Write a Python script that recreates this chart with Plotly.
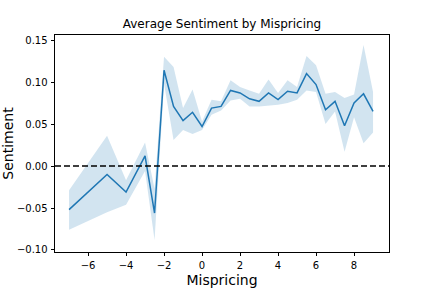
import plotly.graph_objects as go

mispricing = [-7, -5, -4, -3, -2.5, -2, -1.5, -1, -0.5, 0, 0.5, 1, 1.5, 2, 2.5, 3,
              3.5, 4, 4.5, 5, 5.5, 6, 6.5, 7, 7.5, 8, 8.5, 9]
sentiment_mean = [-0.052, -0.010, -0.031, 0.012, -0.056, 0.114, 0.071, 0.054, 0.064, 0.047,
                  0.069, 0.071, 0.090, 0.087, 0.080, 0.077, 0.087, 0.079, 0.089, 0.087,
                  0.110, 0.097, 0.067, 0.077, 0.048, 0.075, 0.086, 0.065]
sentiment_upper = [-0.029, 0.036, -0.017, 0.028, -0.027, 0.130, 0.118, 0.069, 0.091, 0.053,
                   0.079, 0.077, 0.102, 0.094, 0.090, 0.086, 0.103, 0.087, 0.102, 0.094,
                   0.131, 0.120, 0.086, 0.088, 0.081, 0.085, 0.144, 0.088]
sentiment_lower = [-0.076, -0.055, -0.046, -0.006, -0.088, 0.098, 0.031, 0.043, 0.038, 0.043,
                   0.061, 0.066, 0.078, 0.080, 0.071, 0.071, 0.072, 0.073, 0.075, 0.079,
                   0.090, 0.088, 0.050, 0.065, 0.017, 0.058, 0.027, 0.040]

x_ticks = [-6, -4, -2, 0, 2, 4, 6, 8]
y_ticks = [-0.10, -0.05, 0.00, 0.05, 0.10, 0.15]

blue = "#1f77b4"
font = "DejaVu Sans, sans-serif"

fig = go.Figure()
fig.add_trace(go.Scatter(
    x=mispricing + mispricing[::-1],
    y=sentiment_upper + sentiment_lower[::-1],
    fill="toself", fillcolor="rgba(31,119,180,0.2)",
    line=dict(width=0), mode="lines", hoverinfo="skip", showlegend=False,
))
fig.add_trace(go.Scatter(
    x=mispricing, y=sentiment_mean, mode="lines",
    line=dict(color=blue, width=1.5), showlegend=False,
))
fig.add_shape(type="line", xref="paper", x0=0, x1=1, yref="y", y0=0, y1=0,
              line=dict(color="black", width=1.5, dash="6px,3px"))

axis_common = dict(
    showgrid=False, zeroline=False, showline=True, linecolor="black", linewidth=0.8,
    mirror=True, ticks="outside", ticklen=3.5, tickwidth=0.8, tickcolor="black",
    tickfont=dict(family=font, size=10, color="black"), automargin=False,
)
fig.update_xaxes(range=[-7.74, 9.84], tickvals=x_ticks, ticklabelstandoff=1,
                 title=dict(text="Mispricing", font=dict(family=font, size=14, color="black"), standoff=4),
                 **axis_common)
fig.update_yaxes(range=[-0.1024, 0.156], tickvals=y_ticks, tickformat=".2f", ticklabelstandoff=1,
                 title=dict(text="Sentiment", font=dict(family=font, size=14, color="black"), standoff=8),
                 **axis_common)
fig.update_layout(
    width=432, height=288,
    margin=dict(l=55, r=43, t=35, b=36),
    paper_bgcolor="white", plot_bgcolor="white",
    title=dict(text="Average Sentiment by Mispricing", x=0.5, xref="paper",
               y=1 - 24 / 288, yref="container", yanchor="middle",
               font=dict(family=font, size=12, color="black")),
)
fig.write_html("out.html", config={"displayModeBar": False},
               post_script="document.body.style.margin='0';")
